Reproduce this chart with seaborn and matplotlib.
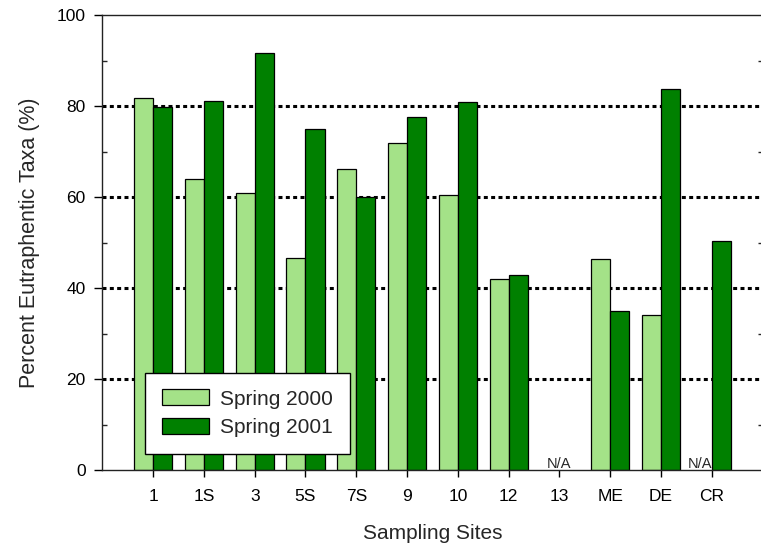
import numpy as np
import pandas as pd
import matplotlib
matplotlib.use("Agg")
import matplotlib.pyplot as plt
from matplotlib.ticker import MultipleLocator
from matplotlib.patches import Patch
import seaborn as sns

# Percent of eutraphentic diatom taxa at each sampling site
sites = ["1", "1S", "3", "5S", "7S", "9", "10", "12", "13", "ME", "DE", "CR"]
spring_2000 = [81.7, 64.0, 60.9, 46.6, 66.2, 71.8, 60.4, 41.9, np.nan, 46.4, 34.0, np.nan]
spring_2001 = [79.8, 81.2, 91.6, 74.9, 60.1, 77.6, 80.9, 42.8, np.nan, 35.0, 83.7, 50.4]
seasons = ["Spring 2000", "Spring 2001"]
missing_label = "N/A"

df = pd.DataFrame({
    "site": sites * 2,
    "season": [seasons[0]] * len(sites) + [seasons[1]] * len(sites),
    "pct": spring_2000 + spring_2001,
})

sns.set_style("ticks")
plt.rcParams["font.family"] = ["Liberation Sans", "DejaVu Sans"]

light_green = "#A4E288"
dark_green = "#008000"

fig = plt.figure(figsize=(7.61, 5.55), dpi=100)
ax = fig.add_axes([102.3 / 761, 85 / 555, 660.3 / 761, 455 / 555])

sns.barplot(
    data=df, x="site", y="pct", hue="season", order=sites, hue_order=seasons,
    palette=[light_green, dark_green], saturation=1, width=0.75, errorbar=None,
    edgecolor="black", linewidth=0.9, ax=ax, legend=False, zorder=2,
)

# dotted reference lines behind the bars
for level in [20, 40, 60, 80]:
    ax.axhline(level, color="black", lw=2.2, ls=(0, (1.3, 1.1)), zorder=0.5)

ax.set_xlim(-1, len(sites))
ax.set_ylim(0, 100)
ax.yaxis.set_major_locator(MultipleLocator(20))
ax.yaxis.set_minor_locator(MultipleLocator(10))

for side in ["left", "right", "top", "bottom"]:
    ax.spines[side].set_visible(True)
    ax.spines[side].set_color("#222222")
    ax.spines[side].set_linewidth(1.0)

ax.tick_params(axis="y", which="major", direction="out", length=6, width=1.0,
               labelsize=12.5, colors="black", pad=6)
ax.tick_params(axis="y", which="minor", direction="in", length=3.5, width=1.0)
ax.tick_params(axis="y", which="both", right=True)
ax.tick_params(axis="x", which="major", direction="out", length=5, width=1.0,
               labelsize=12.5, colors="black", pad=9)

ax.set_xlabel("Sampling Sites", fontsize=15, labelpad=14)
ax.set_ylabel("Percent Eutraphentic Taxa (%)", fontsize=15.5, labelpad=12)

# mark sites with no sample
for i, (a, b) in enumerate(zip(spring_2000, spring_2001)):
    if np.isnan(a) and np.isnan(b):
        ax.annotate(missing_label, (i, 0), xytext=(0, 1.5), textcoords="offset points",
                    ha="center", va="baseline", fontsize=10.5)
    elif np.isnan(a):
        ax.annotate(missing_label, (i - 0.23, 0), xytext=(0, 1.5), textcoords="offset points",
                    ha="center", va="baseline", fontsize=10.5)

handles = [Patch(facecolor=light_green, edgecolor="black", linewidth=0.9),
           Patch(facecolor=dark_green, edgecolor="black", linewidth=0.9)]
leg = ax.legend(handles, seasons, loc="upper left", bbox_to_anchor=(0.0647, 0.2138),
                borderaxespad=0, fontsize=15, frameon=True, fancybox=False,
                handlelength=2.25, handleheight=0.8, handletextpad=0.55,
                borderpad=0.8, labelspacing=0.45)
leg.get_frame().set_edgecolor("black")
leg.get_frame().set_linewidth(1.0)
leg.get_frame().set_alpha(1)
leg.set_zorder(5)

fig.savefig("out.png", dpi=100)
